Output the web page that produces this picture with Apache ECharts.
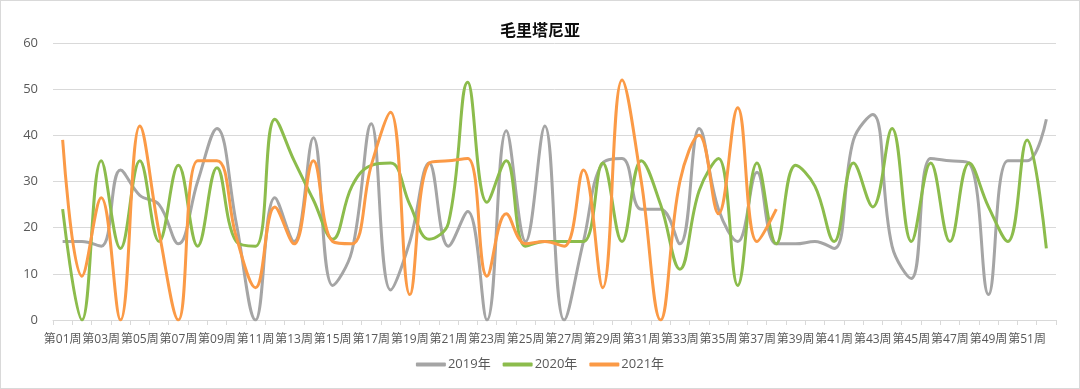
<!DOCTYPE html>
<html>
<head>
<meta charset="utf-8">
<script src="https://cdn.jsdelivr.net/npm/echarts@6/dist/echarts.min.js"></script>
<style>
html,body{margin:0;padding:0;background:#fff;}
#c{width:1080px;height:389px;box-sizing:border-box;border:1px solid #d9d9d9;}
</style>
</head>
<body>
<div id="c"></div>
<script>
const title = "毛里塔尼亚";
const categories = [];
for (let i = 1; i <= 52; i++) categories.push("第" + (i < 10 ? "0" + i : i) + "周");
const seriesNames = ["2019年", "2020年", "2021年"];
const s2019 = [17,17,16,32.5,27,25,16.5,30,41.5,21,0,26.5,17,39.5,7.5,15,42.5,6.5,17,34,16,23.5,0,41,17,42,0,17,34,35,24,24,16.5,41.5,24,17,32,16.5,16.5,17,15.5,39,44.5,16,9,35,34.5,34,5.5,34.5,34.5,43.5];
const s2020 = [24,0,34.5,15.5,34.5,17,33.5,16,33,17,16,43.5,34.5,26,17.5,29,33.5,34,25,17.5,21,51.5,25.5,34.5,16,17,17,17,34,17,34.5,25,11,28,35,7.5,34,16.5,33.5,29,17,34,24.5,41.5,17,34,17,34,24.5,17,39,15.5];
const s2021 = [39,9.5,26.5,0,42,19,0,34.5,34.5,18,7,24.5,16.5,34.5,17,16.5,33.5,45,5.5,34,34.5,35,9.5,23,16.5,17,16,32.5,7,52,30,0,30,40,23,46,17,24];
const colors = ["#a5a5a5", "#8cbc4c", "#fb9a46"];
const yTicks = {min: 0, max: 60, interval: 10};

const chart = echarts.init(document.getElementById("c"));
const font = "'Open Sans', 'Noto Sans CJK SC', sans-serif";
chart.setOption({
  animation: false,
  color: colors,
  title: {
    text: title, left: "center", top: 16,
    textStyle: {fontFamily: "'Noto Sans CJK SC', sans-serif", fontSize: 16, fontWeight: "bold", color: "#0d0d0d"}
  },
  legend: {
    bottom: 12, left: "center", itemWidth: 30, itemHeight: 4, itemGap: 12,
    icon: "roundRect",
    textStyle: {fontFamily: font, fontSize: 13, color: "#595959", padding: [0, 0, 0, -3]},
    data: seriesNames
  },
  grid: {left: 52, right: 23, top: 42, bottom: 68},
  xAxis: {
    type: "category", data: categories, boundaryGap: true,
    axisLine: {lineStyle: {color: "#d9d9d9"}},
    axisTick: {show: true, interval: 0, length: 5, lineStyle: {color: "#d9d9d9"}},
    axisLabel: {interval: 1, color: "#595959", fontSize: 12, fontFamily: font, margin: 14, hideOverlap: false, showMinLabel: true}
  },
  yAxis: {
    type: "value", min: yTicks.min, max: yTicks.max, interval: yTicks.interval,
    axisLine: {show: false}, axisTick: {show: false},
    splitLine: {lineStyle: {color: "#d9d9d9"}},
    axisLabel: {color: "#595959", fontSize: 13, fontFamily: font, margin: 15}
  },
  series: [s2019, s2020, s2021].map((d, i) => ({
    name: seriesNames[i], type: "line", data: d, smooth: 0.4,
    symbol: "none", lineStyle: {width: 3, color: colors[i]}, z: 2 + i
  }))
});
</script>
</body>
</html>
